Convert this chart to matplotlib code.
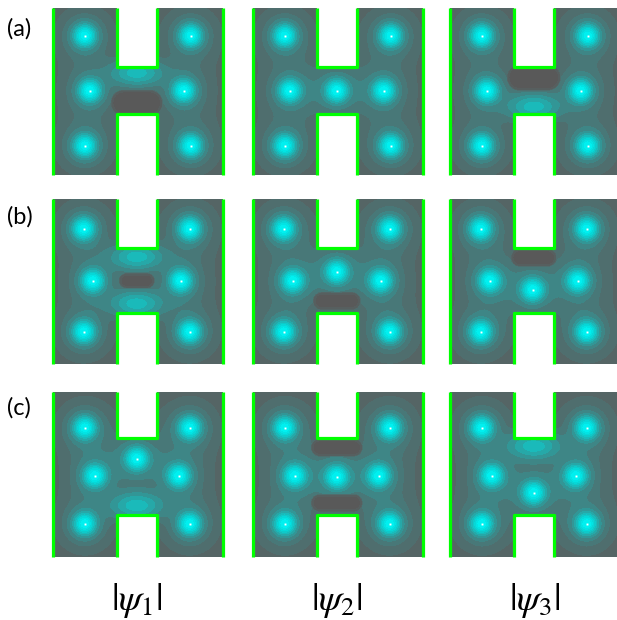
# |psi| maps on the H-shaped flake
import numpy as np
import matplotlib
matplotlib.use('Agg')
import matplotlib.pyplot as plt
from matplotlib.colors import ListedColormap, BoundaryNorm
from matplotlib.path import Path
from matplotlib.patches import PathPatch

plt.rcParams['mathtext.fontset'] = 'stix'

# panel layout (pixels)
col_left = [53, 253, 450]
row_top = [8, 199, 392]
panel_w = 170
panel_h = [167, 165, 165]
notch_x = [64, 104]
notch_top = [59, 49, 46]      # bottom of upper notch
notch_bot = [106, 114, 123]   # top of lower notch

row_labels = ['(a)', '(b)', '(c)']
row_label_y = [29, 217, 408]
col_labels = [r'$|\psi_1|$', r'$|\psi_2|$', r'$|\psi_3|$']
col_label_x = [137, 337, 535]

# six outer sites per row, panel-relative (x, y)
outer_sites = [
    [(32, 28), (138, 28), (37, 83), (131, 83), (32, 138), (138, 138)],
    [(31, 30), (137, 30), (40, 82), (128, 82), (31, 133), (137, 133)],
    [(32, 36), (137, 36), (42, 84), (126, 84), (32, 132), (137, 132)],
]
# central site per panel (None = no site visible)
center_site = [
    [None, (84, 83), None],
    [None, (84, 73), (83, 91)],
    [(84, 67), (84, 85), (84, 101)],
]
# soft lobes without a site: (x, y)
lobes = [
    [[(84, 65)], [], [(84, 99)]],
    [[(84, 58), (84, 105)], [], []],
    [[(84, 114)], [], [(84, 54)]],
]
# dark nodes: (x, y, half length, radius)
nodes = [
    [[(84, 95, 13, 10)], [], [(84, 70, 14, 10)]],
    [[(84, 82, 10, 5)], [(84, 102, 15, 6)], [(84, 59, 14, 6)]],
    [[], [(84, 56, 17, 6), (84, 111, 17, 6)], []],
]

band_edges = [0, 0.1, 0.2, 0.225, 0.255, 0.29, 0.34, 0.4, 0.47, 0.55, 0.64,
              0.74, 0.85, 5.0]
band_colors = ['#595959', '#575f5f', '#556565', '#4f6e6e', '#487878',
               '#3e8686', '#329696', '#26a8a8', '#1ababa', '#0ecaca',
               '#06d8d8', '#02e4e4', '#00f0f0']
cmap = ListedColormap(band_colors)
norm = BoundaryNorm(band_edges, cmap.N)

fig = plt.figure(figsize=(6.17, 6.20), dpi=100)
ax = fig.add_axes([0, 0, 1, 1])

for r in range(3):
    h = panel_h[r]
    t, b = notch_top[r], notch_bot[r]
    nl, nr = notch_x
    for c in range(3):
        x0, y0 = col_left[c], row_top[r]
        yy, xx = np.mgrid[0:h:0.5, 0:panel_w:0.5]
        xx = xx + 0.25
        yy = yy + 0.25
        f = np.full(xx.shape, 0.2)
        sites = list(outer_sites[r])
        if center_site[r][c] is not None:
            sites.append(center_site[r][c])
        for sx, sy in sites:
            rr = np.hypot(xx - sx, yy - sy)
            f += 0.5 * np.exp(-(rr / 9.0) ** 2) + 0.35 * np.exp(-rr / 12.0)
        for gx, gy in lobes[r][c]:
            f += 0.3 * np.exp(-0.5 * ((xx - gx) / 17.0) ** 2
                              - 0.5 * ((yy - gy) / 9.0) ** 2)
        for hx, hy, hl, hr in nodes[r][c]:
            dx = np.clip(np.abs(xx - hx) - hl, 0, None)
            d = np.hypot(dx, yy - hy)
            f *= np.clip((d - hr) / 5.0 + 0.35, 0, 1)

        verts = [(0, 0), (nl, 0), (nl, t), (nr, t), (nr, 0), (panel_w, 0),
                 (panel_w, h), (nr, h), (nr, b), (nl, b), (nl, h), (0, h),
                 (0, 0)]
        verts = [(x0 + vx, y0 + vy) for vx, vy in verts]
        shape = PathPatch(Path(verts, closed=True), facecolor='none',
                          edgecolor='none', transform=ax.transData)
        ax.add_patch(shape)
        im = ax.imshow(f, cmap=cmap, norm=norm, interpolation='nearest',
                       origin='upper', extent=(x0, x0 + panel_w, y0 + h, y0))
        im.set_clip_path(shape)

        # edges
        g = dict(color='#00ff00', lw=2.3, solid_capstyle='butt')
        ax.plot([x0, x0], [y0, y0 + h], **g)
        ax.plot([x0 + panel_w, x0 + panel_w], [y0, y0 + h], **g)
        ax.plot([x0 + nl, x0 + nl, x0 + nr, x0 + nr],
                [y0, y0 + t, y0 + t, y0], **g)
        ax.plot([x0 + nl, x0 + nl, x0 + nr, x0 + nr],
                [y0 + h, y0 + b, y0 + b, y0 + h], **g)

        ax.plot([x0 + s[0] for s in sites], [y0 + s[1] for s in sites],
                's', color='white', markersize=1.4, markeredgewidth=0)

    ax.text(7, row_label_y[r], row_labels[r], fontsize=17, family='Lato',
            ha='left', va='center')

for c in range(3):
    ax.text(col_label_x[c], 600, col_labels[c], fontsize=27,
            ha='center', va='center')

ax.set_xlim(0, 617)
ax.set_ylim(620, 0)
ax.set_aspect('auto')
ax.axis('off')
plt.savefig('out.png', dpi=100)
